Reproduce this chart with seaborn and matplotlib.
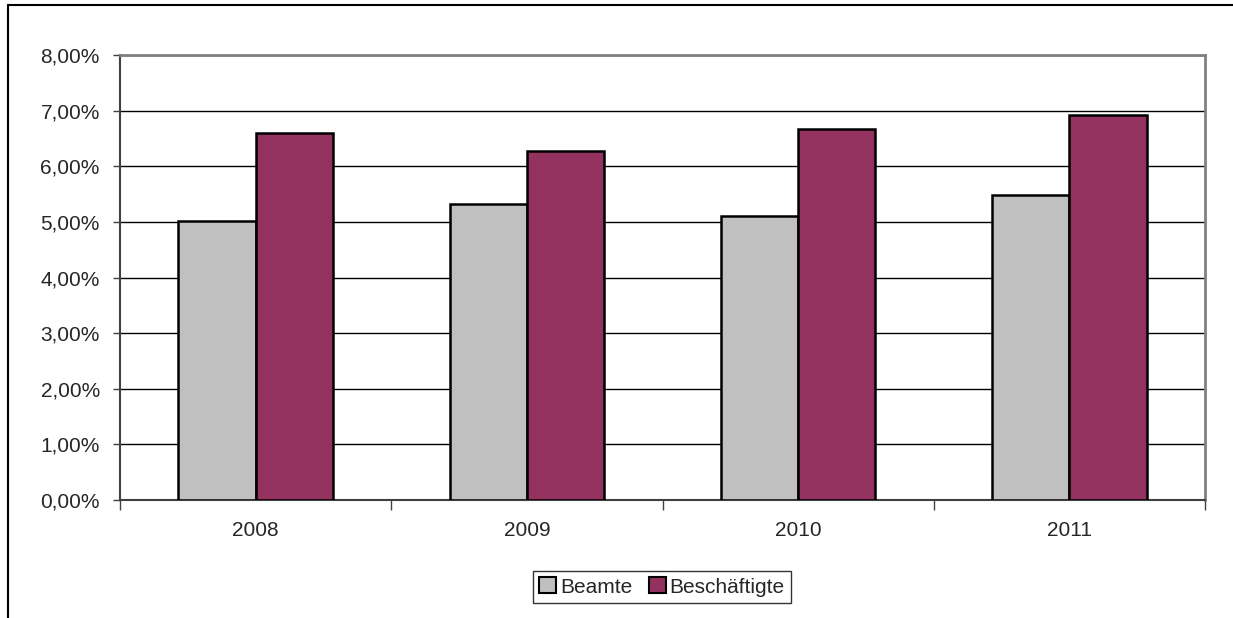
import pandas as pd
import matplotlib.pyplot as plt
import seaborn as sns
from matplotlib.lines import Line2D
from matplotlib.ticker import FuncFormatter, FixedLocator

# Werte (Prozent)
years = ['2008', '2009', '2010', '2011']
beamte = [5.01, 5.32, 5.10, 5.49]
beschaeftigte = [6.59, 6.28, 6.67, 6.93]
groups = ['Beamte', 'Beschäftigte']
colors = ['#C0C0C0', '#94325F']

data = pd.DataFrame({
    'Jahr': years * 2,
    'Wert': beamte + beschaeftigte,
    'Gruppe': [groups[0]] * 4 + [groups[1]] * 4,
})

sns.set_style('white')
plt.rcParams['font.family'] = ['Liberation Sans', 'DejaVu Sans']

fig = plt.figure(figsize=(12.33, 6.18), dpi=100)
ax = fig.add_axes([120 / 1233, 1 - 500 / 618, 1085 / 1233, 445 / 618])

sns.barplot(data=data, x='Jahr', y='Wert', hue='Gruppe', palette=colors,
            width=0.57, gap=0, edgecolor='black', linewidth=1.8,
            saturation=1, legend=False, ax=ax, zorder=3)

# Achsen und Gitter
ax.set_ylim(0, 8)
ax.set_xlim(-0.5, 3.5)
ax.set_yticks(range(0, 9))
ax.yaxis.set_major_formatter(FuncFormatter(lambda v, p: f'{v:.2f}%'.replace('.', ',')))
ax.grid(axis='y', color='black', linewidth=1, zorder=0)
ax.set_axisbelow(True)
ax.set_xlabel('')
ax.set_ylabel('')
ax.tick_params(axis='both', labelsize=15)
ax.tick_params(axis='y', left=True, length=5, width=1, color='#404040', pad=9.5)
ax.tick_params(axis='x', which='major', length=0, pad=15)
ax.xaxis.set_minor_locator(FixedLocator([-0.5, 0.5, 1.5, 2.5, 3.5]))
ax.tick_params(axis='x', which='minor', bottom=True, length=7, width=1, color='#404040')
for side in ['left', 'bottom']:
    ax.spines[side].set_color('#404040')
    ax.spines[side].set_linewidth(1.5)
for side in ['top', 'right']:
    ax.spines[side].set_color('#808080')
    ax.spines[side].set_linewidth(2)

# Legende
handles = [plt.Rectangle((0, 0), 1, 1, facecolor=c, edgecolor='black', linewidth=1.5) for c in colors]
leg = fig.legend(handles, groups, loc='center', bbox_to_anchor=(662 / 1233, 1 - 587 / 618),
                 ncol=2, fontsize=15, frameon=True, fancybox=False, handlelength=0.8,
                 handleheight=0.8, handletextpad=0.2, columnspacing=0.8, borderpad=0.3)
leg.get_frame().set_edgecolor('black')
leg.get_frame().set_linewidth(1)

# Rahmen des Diagrammbereichs (oben und links)
fig.add_artist(Line2D([8 / 1233, 1], [1 - 5 / 618, 1 - 5 / 618], color='black', linewidth=1.5))
fig.add_artist(Line2D([8 / 1233, 8 / 1233], [0, 1 - 5 / 618], color='black', linewidth=1.5))

fig.savefig('out.png', dpi=100)
